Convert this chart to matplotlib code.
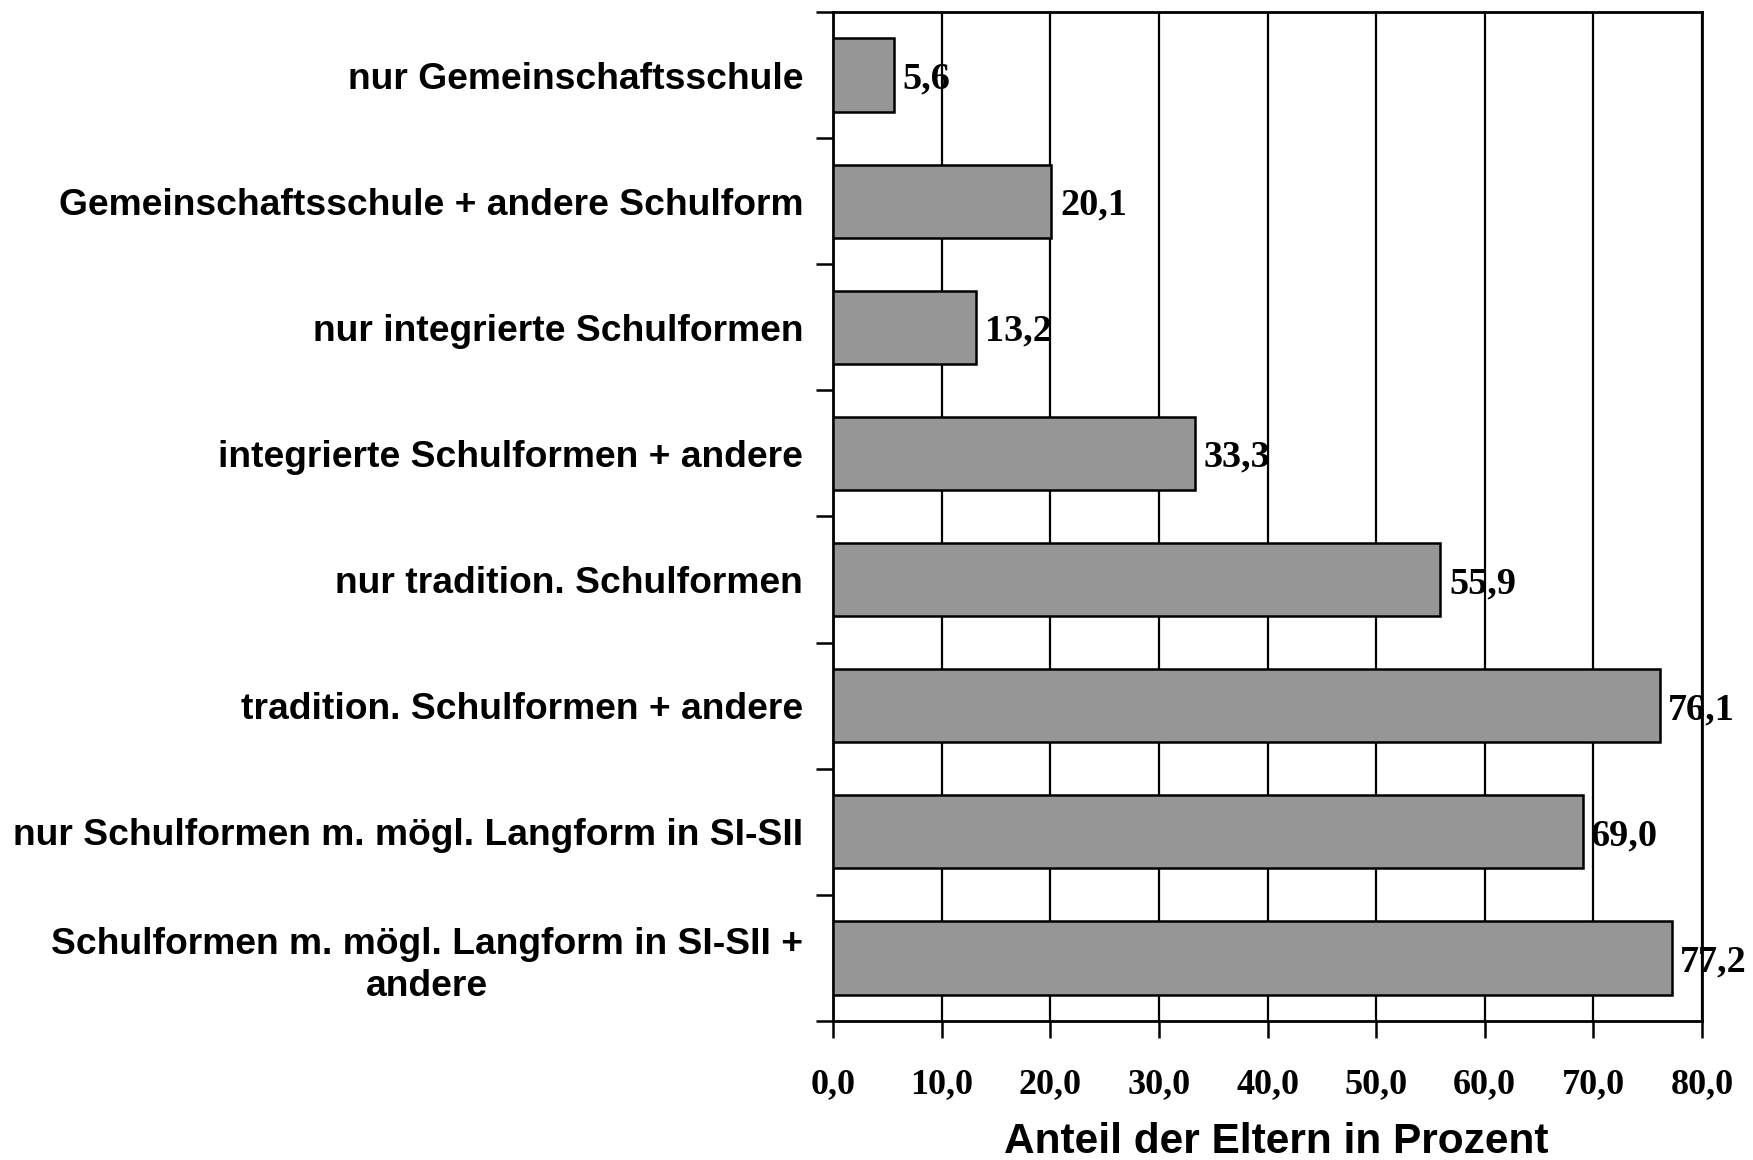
import numpy as np
import matplotlib
matplotlib.use("Agg")
import matplotlib.pyplot as plt

# ---- data ----
categories = [
    "nur Gemeinschaftsschule",
    "Gemeinschaftsschule + andere Schulform",
    "nur integrierte Schulformen",
    "integrierte Schulformen + andere",
    "nur tradition. Schulformen",
    "tradition. Schulformen + andere",
    "nur Schulformen m. mögl. Langform in SI-SII",
    "Schulformen m. mögl. Langform in SI-SII +\nandere",
]
values = [5.6, 20.1, 13.2, 33.3, 55.9, 76.1, 69.0, 77.2]
x_ticks = [0, 10, 20, 30, 40, 50, 60, 70, 80]
x_label = "Anteil der Eltern in Prozent"

SANS = "Liberation Sans"
SERIF = "Liberation Serif"

fig = plt.figure(figsize=(17.53, 11.60), dpi=100)
ax = fig.add_axes([0.4752, 0.1198, 0.9709 - 0.4752, 0.9897 - 0.1198])

y = np.arange(len(categories))
ax.barh(y, values, height=0.58, color="#969696", edgecolor="black",
        linewidth=1.8, zorder=3)

# value labels
for yi, v in zip(y, values):
    ax.text(v + 0.8, yi, f"{v:.1f}".replace(".", ","), va="center_baseline",
            ha="left", fontsize=27.5, fontweight="bold", family=SERIF, zorder=4)

ax.set_xlim(0, 80)
ax.set_ylim(len(categories) - 0.5, -0.5)

# x axis
ax.set_xticks(x_ticks)
ax.set_xticklabels([f"{t:.1f}".replace(".", ",") for t in x_ticks],
                   fontsize=26, fontweight="bold", family=SERIF)
ax.tick_params(axis="x", direction="out", length=12, width=1.8, pad=22)
ax.xaxis.grid(True, color="black", linewidth=1.6, zorder=0)
ax.set_axisbelow(True)

# y axis: ticks at category boundaries, labels at centres
ax.set_yticks(np.arange(-0.5, len(categories), 1.0))
ax.set_yticklabels([])
ax.set_yticks(y, minor=True)
ax.set_yticklabels(categories, minor=True, fontsize=26.8, fontweight="bold",
                   family=SANS, multialignment="center", linespacing=1.25)
ax.tick_params(axis="y", which="major", direction="out", length=12, width=1.8)
ax.tick_params(axis="y", which="minor", length=0, pad=21.5)

for side in ["left", "right", "top", "bottom"]:
    ax.spines[side].set_linewidth(2.0)
    ax.spines[side].set_color("black")

ax.set_xlabel(x_label, fontsize=30.5, fontweight="bold", family=SANS)
ax.xaxis.set_label_coords(0.51, -0.100)

fig.savefig("out.png", dpi=100, facecolor="white")
